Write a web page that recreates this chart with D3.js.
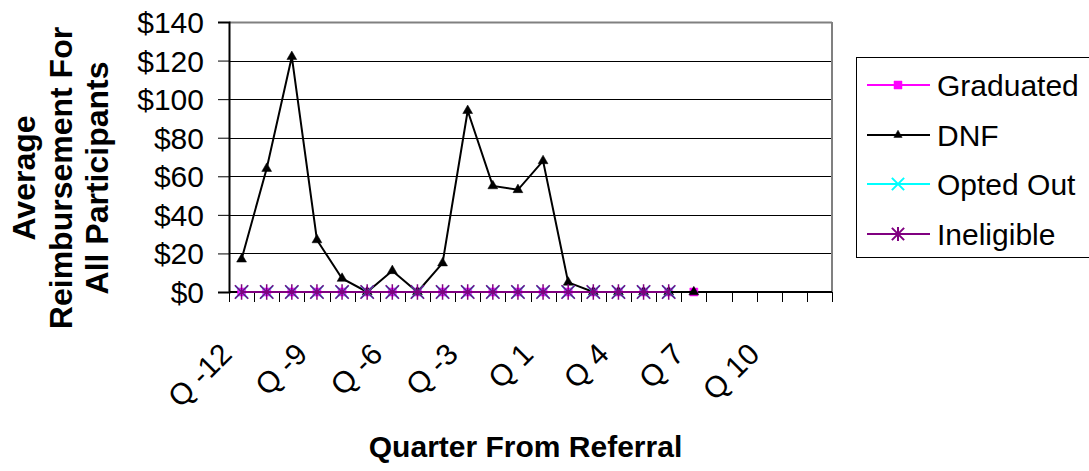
<!DOCTYPE html>
<html>
<head>
<meta charset="utf-8">
<script src="https://cdn.jsdelivr.net/npm/d3@7"></script>
<style>
  html, body { margin: 0; padding: 0; background: #fff; }
  svg { display: block; font-family: "Liberation Sans", Arial, sans-serif; }
</style>
</head>
<body>
<svg id="chart" width="1089" height="471"></svg>
<script>
// ---- Data ----
const categories = ["Q -12","Q -11","Q -10","Q -9","Q -8","Q -7","Q -6","Q -5","Q -4","Q -3","Q -2","Q -1",
                    "Q 1","Q 2","Q 3","Q 4","Q 5","Q 6","Q 7","Q 8","Q 9","Q 10","Q 11","Q 12"];
const shownLabels = ["Q -12","Q -9","Q -6","Q -3","Q 1","Q 4","Q 7","Q 10"];
const yTicks = [0, 20, 40, 60, 80, 100, 120, 140];

const graduated  = [0,0,0,0,0,0,0,0,0,0,0,0,0,0,0,0,0,0,0];
const dnf        = [17,64,122,27,7,0,11,0,15,94,55,53,68,5,0,0,0,0,0];
const optedOut   = [0,0,0,0,0,0,0,0,0,0,0,0,0,0,0,0,0,0];
const ineligible = [0,0,0,0,0,0,0,0,0,0,0,0,0,0,0,0,0,0];

const seriesNames = ["Graduated", "DNF", "Opted Out", "Ineligible"];

// ---- Layout ----
const svg = d3.select("#chart");
const plot = { left: 229, right: 832, top: 22, bottom: 292 };

const x = d3.scaleBand().domain(categories).range([plot.left, plot.right]).padding(0);
const y = d3.scaleLinear().domain([0, 140]).range([plot.bottom, plot.top]);

// custom asterisk: X plus vertical bar
const asteriskSym = {
  draw(ctx, size) {
    const r = Math.sqrt(size) / 2;
    ctx.moveTo(-r, -r); ctx.lineTo(r, r);
    ctx.moveTo(-r, r); ctx.lineTo(r, -r);
    ctx.moveTo(0, -r * 1.15); ctx.lineTo(0, r * 1.15);
  }
};
const timesSym = {
  draw(ctx, size) {
    const r = Math.sqrt(size) / 2;
    ctx.moveTo(-r, -r); ctx.lineTo(r, r);
    ctx.moveTo(-r, r); ctx.lineTo(r, -r);
  }
};

const series = [
  { name: seriesNames[0], values: graduated,  color: "#FF00FF", sym: d3.symbolSquare,   size: 64,  filled: true,  lw: 2, sw: 0.5 },
  { name: seriesNames[1], values: dnf,        color: "#000000", sym: d3.symbolTriangle, size: 42,  filled: true,  lw: 2, sw: 0.5 },
  { name: seriesNames[2], values: optedOut,   color: "#00FFFF", sym: timesSym,          size: 150, filled: false, lw: 2, sw: 2 },
  { name: seriesNames[3], values: ineligible, color: "#800080", sym: asteriskSym,       size: 180, filled: false, lw: 2, sw: 1.5 }
];

// ---- Gridlines ----
svg.append("g")
  .selectAll("line").data(yTicks.filter(d => d > 0 && d < 140)).join("line")
  .attr("x1", plot.left).attr("x2", plot.right)
  .attr("y1", d => Math.round(y(d)) + 0.5).attr("y2", d => Math.round(y(d)) + 0.5)
  .attr("stroke", "#000").attr("stroke-width", 1);

// plot frame (top, right grey)
svg.append("line").attr("x1", plot.left).attr("x2", plot.right)
  .attr("y1", plot.top + 0.5).attr("y2", plot.top + 0.5).attr("stroke", "#808080").attr("stroke-width", 2);
svg.append("line").attr("x1", plot.right).attr("x2", plot.right)
  .attr("y1", plot.top).attr("y2", plot.bottom).attr("stroke", "#808080").attr("stroke-width", 2);

// ---- Y axis ----
const yAxis = d3.axisLeft(y).tickValues(yTicks).tickFormat(d => "$" + d).tickSize(11).tickPadding(14);
const gy = svg.append("g").attr("transform", `translate(${plot.left},0)`).call(yAxis);
gy.select(".domain").attr("stroke", "#000").attr("stroke-width", 2);
gy.selectAll(".tick line").attr("stroke", "#000");
gy.selectAll(".tick text").attr("font-size", 30).attr("fill", "#000")
  .attr("font-family", "'Liberation Sans', Arial, sans-serif").attr("dy", "0.35em");

// ---- X axis ----
svg.append("line").attr("x1", plot.left).attr("x2", plot.right)
  .attr("y1", plot.bottom).attr("y2", plot.bottom).attr("stroke", "#000").attr("stroke-width", 2);
const boundaries = categories.map(c => x(c)).concat([x(categories[categories.length - 1]) + x.bandwidth()]);
svg.append("g").selectAll("line").data(boundaries).join("line")
  .attr("x1", d => Math.round(d) + 0.5).attr("x2", d => Math.round(d) + 0.5)
  .attr("y1", plot.bottom).attr("y2", plot.bottom + 10)
  .attr("stroke", "#000").attr("stroke-width", 1);

svg.append("g").selectAll("text").data(shownLabels).join("text")
  .attr("transform", d => `translate(${x(d) + x.bandwidth() / 2 - 8},356) rotate(-45)`)
  .attr("text-anchor", "end")
  .attr("font-size", 30).attr("fill", "#000")
  .text(d => d);

// ---- Series ----
const cx = i => x(categories[i]) + x.bandwidth() / 2;
const line = d3.line().x((d, i) => cx(i)).y(d => y(d));

series.forEach(s => {
  const g = svg.append("g");
  g.append("path").datum(s.values).attr("d", line)
    .attr("fill", "none").attr("stroke", s.color).attr("stroke-width", s.lw).attr("stroke-linejoin", "miter");
  g.selectAll("path.m").data(s.values).join("path").attr("class", "m")
    .attr("transform", (d, i) => `translate(${cx(i)},${y(d)})`)
    .attr("d", d3.symbol().type(s.sym).size(s.size))
    .attr("fill", s.filled ? s.color : "none")
    .attr("stroke", s.color)
    .attr("stroke-width", s.sw);
});

// ---- Axis titles ----
svg.append("text")
  .attr("x", (plot.left + plot.right) / 2 - 5).attr("y", 457)
  .attr("text-anchor", "middle").attr("font-size", 30).attr("font-weight", "bold")
  .text("Quarter From Referral");

const yTitle = ["Average", "Reimbursement For", "All Participants"];
svg.append("g").attr("transform", "translate(0,178) rotate(-90)")
  .selectAll("text").data(yTitle).join("text")
  .attr("x", 0).attr("y", (d, i) => 35 + i * 36.5)
  .attr("text-anchor", "middle").attr("font-size", 32).attr("font-weight", "bold")
  .text(d => d);

// ---- Legend ----
const legend = svg.append("g");
legend.append("rect").attr("x", 856.5).attr("y", 57.5).attr("width", 240).attr("height", 200)
  .attr("fill", "#fff").attr("stroke", "#000").attr("stroke-width", 1);
const legY = [85, 135, 184, 234];
const legSizes = [64, 30, 150, 150];
series.forEach((s, i) => {
  const gy2 = legY[i];
  legend.append("line").attr("x1", 867).attr("x2", 930).attr("y1", gy2).attr("y2", gy2)
    .attr("stroke", s.color).attr("stroke-width", 2);
  legend.append("path").attr("transform", `translate(898,${gy2})`)
    .attr("d", d3.symbol().type(s.sym).size(legSizes[i]))
    .attr("fill", s.filled ? s.color : "none").attr("stroke", s.color)
    .attr("stroke-width", s.filled ? 0.5 : 2);
  legend.append("text").attr("x", 937).attr("y", gy2).attr("dy", "0.36em")
    .attr("font-size", 30).attr("fill", "#000").text(s.name);
});
</script>
</body>
</html>
